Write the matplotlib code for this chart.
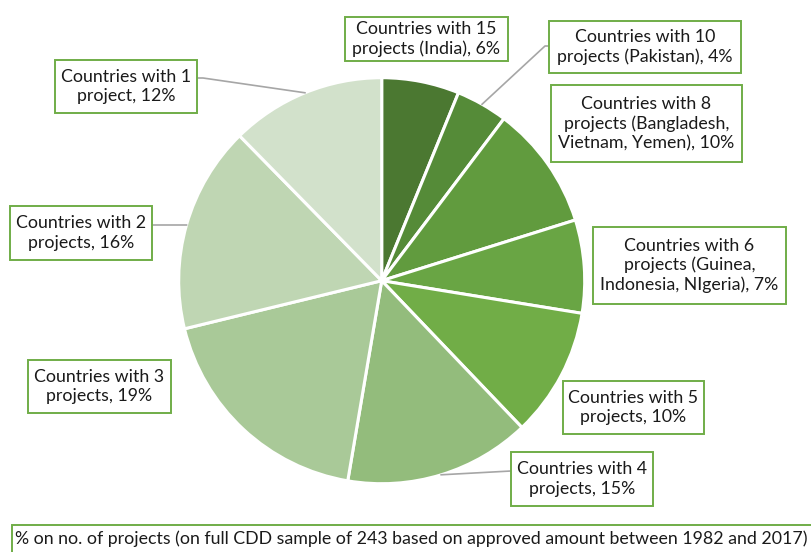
import numpy as np
import matplotlib.pyplot as plt
from matplotlib.patches import Rectangle

# number of projects in each group (full CDD sample of 243)
groups = ['15', '10', '8', '6', '5', '4', '3', '2', '1']
projects = [15, 10, 24, 18, 25, 36, 45, 40, 30]
label_text = [
    'Countries with 15\nprojects (India), {}%',
    'Countries with 10\nprojects (Pakistan), {}%',
    'Countries with 8\nprojects (Bangladesh,\nVietnam, Yemen), {}%',
    'Countries with 6\nprojects (Guinea,\nIndonesia, NIgeria), {}%',
    'Countries with 5\nprojects, {}%',
    'Countries with 4\nprojects, {}%',
    'Countries with 3\nprojects, {}%',
    'Countries with 2\nprojects, {}%',
    'Countries with 1\nproject, {}%',
]
colors = ['#4b7831', '#558b38', '#619b3e', '#69a544', '#71ad47',
          '#93bc7c', '#a9c998', '#bfd6b3', '#d2e1cb']
footer = '% on no. of projects (on full CDD sample of 243 based on approved amount between 1982 and 2017)'

# label boxes in pixel coords: x0, y0 (top), x1, y1 (bottom)
boxes = [(345, 17, 508, 61), (549, 21, 741, 73), (551, 85, 742, 162),
         (593, 227, 786, 304), (563, 381, 704, 434), (511, 452, 653, 506),
         (28, 360, 171, 413), (10, 206, 152, 260), (55, 60, 197, 113)]
# leader line end points for the labels that have one
leaders = {1: [(545, 46), (549, 46)], 5: [(511, 471)], 7: [(152, 225)], 8: [(203, 78), (197, 78)]}

W, H = 812, 552
plt.rcParams['font.family'] = ['Lato', 'DejaVu Sans']
fig = plt.figure(figsize=(W / 100, H / 100), dpi=100)
ax = fig.add_axes([0, 0, 1, 1])


def py(y):
    return H - y


cx, cy, r = 381.7, 280.7, 203
wedges, _ = ax.pie(projects, center=(cx, py(cy)), radius=r, startangle=90,
                   counterclock=False, colors=colors,
                   wedgeprops=dict(edgecolor='white', linewidth=2.2))
ax.set_xlim(0, W)
ax.set_ylim(0, H)
ax.set_aspect('equal')
ax.axis('off')

# footer first, to fit the font size to the width it has in the reference
green = '#70ad47'
ax.add_patch(Rectangle((12, py(560)), 810, 560 - 525, facecolor='white',
                       edgecolor=green, linewidth=1.4, zorder=3, clip_on=False))
ft = ax.text(15, py(539), footer, ha='left', va='center', fontsize=13,
             color='#1a1a1a', zorder=4)
renderer = fig.canvas.get_renderer()
fw = ft.get_window_extent(renderer).width
fs = min(13.5, 13 * 791 / fw)
ft.set_fontsize(fs)

total = sum(projects)
for i, (txt, box) in enumerate(zip(label_text, boxes)):
    pct = round(projects[i] / total * 100)
    x0, y0, x1, y1 = box
    ax.add_patch(Rectangle((x0, py(y1)), x1 - x0, y1 - y0, facecolor='white',
                           edgecolor=green, linewidth=1.4, zorder=3))
    ax.text((x0 + x1) / 2, py((y0 + y1) / 2), txt.format(pct), ha='center', va='center',
            fontsize=fs, color='#1a1a1a', linespacing=1.25, zorder=4)
    if i in leaders:
        w = wedges[i]
        ang = np.deg2rad((w.theta1 + w.theta2) / 2)
        xs = [cx + r * np.cos(ang)] + [p[0] for p in leaders[i]]
        ys = [py(cy) + r * np.sin(ang)] + [py(p[1]) for p in leaders[i]]
        ax.plot(xs, ys, color='#a6a6a6', linewidth=1.2, zorder=2)

fig.savefig('out.png', dpi=100)
